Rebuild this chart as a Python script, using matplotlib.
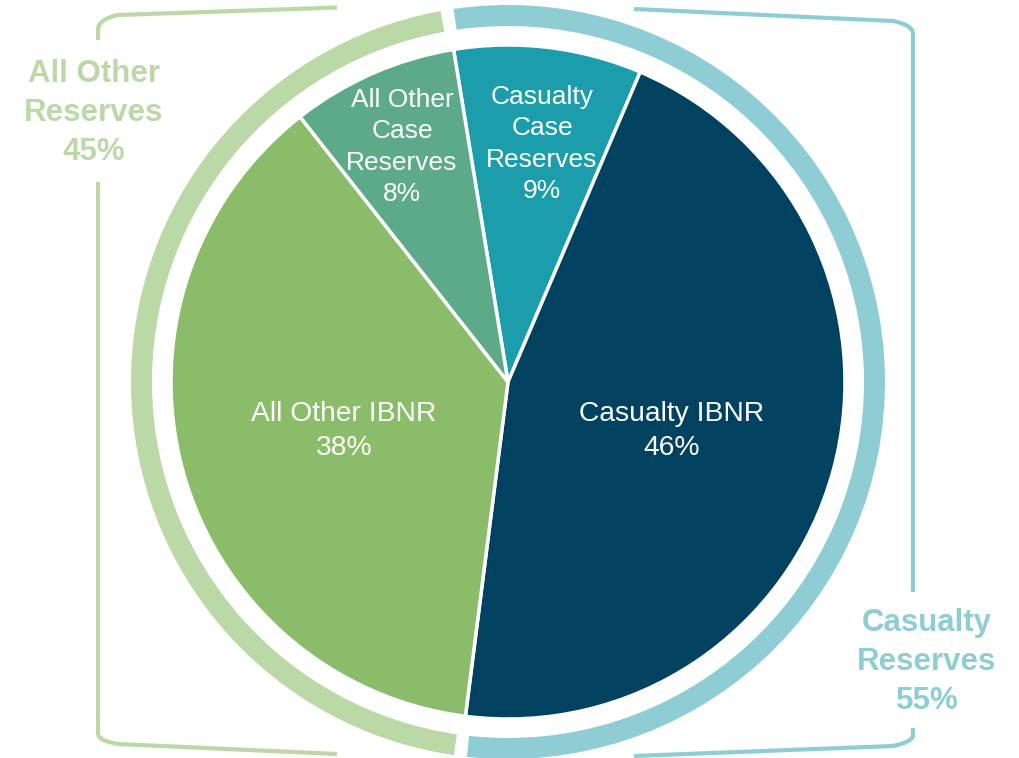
import numpy as np
import matplotlib.pyplot as plt
from matplotlib.path import Path
from matplotlib.patches import PathPatch

plt.rcParams['font.family'] = ['Liberation Sans', 'DejaVu Sans']

# inner pie, clockwise from the top
slice_names = ['Casualty\nCase\nReserves', 'Casualty IBNR', 'All Other IBNR', 'All Other\nCase\nReserves']
slice_values = [9.0, 45.6, 37.4, 8.0]
slice_pct = ['9%', '46%', '38%', '8%']
slice_colors = ['#1c9dac', '#004260', '#8abc6a', '#5daa8b']

# outer ring
group_names = ['Casualty\nReserves', 'All Other\nReserves']
group_values = [54.6, 45.4]
group_pct = ['55%', '45%']
group_colors = ['#8ecdd4', '#bbd8a7']

W, H = 1020, 758
fig = plt.figure(figsize=(W / 100, H / 100), dpi=100)
ax = fig.add_axes([0, 0, 1, 1])

cx, cy = 508, H - 382
start = 99.3

wedges, _ = ax.pie(slice_values, colors=slice_colors, startangle=start, counterclock=False,
                   radius=337, center=(cx, cy),
                   wedgeprops=dict(edgecolor='white', linewidth=2.5))

ring, _ = ax.pie(group_values, colors=group_colors, startangle=start, counterclock=False,
                 radius=377, center=(cx, cy),
                 wedgeprops=dict(width=21, edgecolor='none'))
gap = 1.0
for w in ring:
    w.set_theta1(w.theta1 + gap)
    w.set_theta2(w.theta2 - gap)

# slice labels
label_pos = [(542, 144), (672, 431), (344, 431), (402, 147)]
for name, pct, (x, y) in zip(slice_names, slice_pct, label_pos):
    multi = '\n' in name
    ax.text(x, H - y, name + '\n' + pct, ha='center', va='center', color='white',
            fontsize=19 if multi else 20.3, linespacing=1.37 if multi else 1.4)

# group labels
group_pos = [(927, 662), (94, 113)]
for name, pct, col, (x, y) in zip(group_names, group_pct, group_colors, group_pos):
    ax.text(x, H - y, name + '\n' + pct, ha='center', va='center', color=col,
            fontsize=22.5, fontweight='bold', linespacing=1.4)


def bracket(pts, codes, color):
    verts = [(x, H - y) for x, y in pts]
    ax.add_patch(PathPatch(Path(verts, codes), fill=False, edgecolor=color,
                           linewidth=3, capstyle='butt'))


M, L, C = Path.MOVETO, Path.LINETO, Path.CURVE3
green, teal = group_colors[1], group_colors[0]

# left bracket (All Other)
bracket([(337, 7.5), (118, 15), (98, 19), (98, 30), (98, 40)], [M, L, C, C, L], green)
bracket([(98, 182), (98, 733), (98, 741), (118, 744), (337, 754)], [M, L, C, C, L], green)

# right bracket (Casualty)
bracket([(634, 9), (893, 21), (913, 25), (913, 34), (913, 592)], [M, L, C, C, L], teal)
bracket([(913, 728), (913, 735), (913, 742), (893, 746), (634, 756)], [M, L, C, C, L], teal)

ax.set_xlim(0, W)
ax.set_ylim(0, H)
ax.set_aspect('equal')
ax.axis('off')

fig.savefig('out.png', dpi=100, facecolor='white')
